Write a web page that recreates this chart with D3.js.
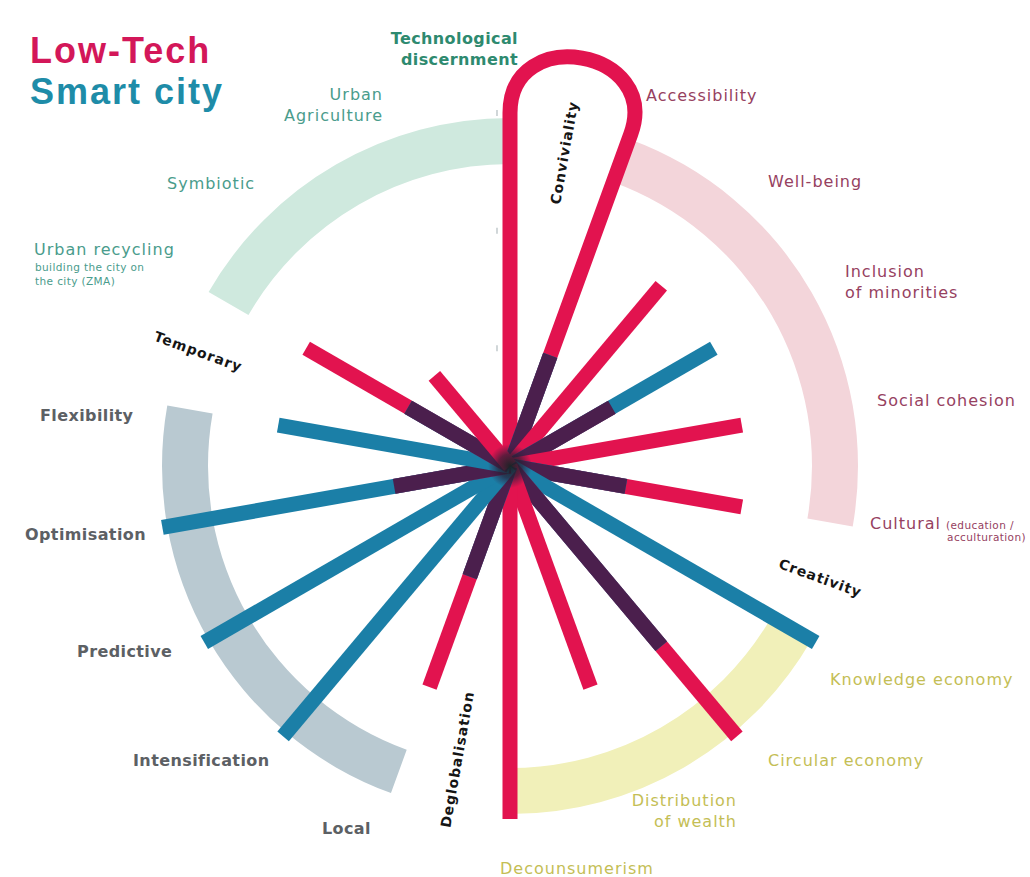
<!DOCTYPE html>
<html>
<head>
<meta charset="utf-8">
<script src="https://cdn.jsdelivr.net/npm/d3@7"></script>
<style>
  html, body { margin: 0; padding: 0; background: #fff; }
  svg { display: block; }
  text { font-family: "DejaVu Sans", sans-serif; }
  .title { font-family: "Liberation Sans", Arial, sans-serif; font-weight: bold; font-size: 36px; letter-spacing: 2px; }
  .cat { font-size: 16px; letter-spacing: 1px; }
  .cat.bold { font-weight: bold; letter-spacing: 0.4px; }
  .note { font-size: 10.5px; letter-spacing: 0.4px; }
  .grp { font-size: 14px; font-weight: bold; fill: #151515; letter-spacing: 1px; }
</style>
</head>
<body>
<svg id="chart" width="1030" height="877"></svg>
<script>
// categories clockwise from the top, one every 20 degrees ("|" = line break)
const categories = [
  "Technological|discernment", "Accessibility", "Well-being", "Inclusion|of minorities",
  "Social cohesion", "Cultural", "Knowledge economy", "Circular economy",
  "Distribution|of wealth", "Decounsumerism", "Local", "Intensification",
  "Predictive", "Optimisation", "Flexibility", "Urban recycling",
  "Symbiotic", "Urban|Agriculture"
];
// score per category (0..3)
const lowTech   = [3, 3, 2, 1, 2, 2, 0, 3, 2, 3, 2, 0, 0, 1, 0, 2, 1, 0];
const smartCity = [0, 1, 0, 2, 0, 1, 3, 2, 0, 0, 1, 3, 3, 3, 2, 1, 0, 0];
// the two low-tech spokes joined by a loop (off the scale)
const loopPair = [0, 1];
const notes = { 5: ["(education /", "acculturation)"], 15: ["building the city on", "the city (ZMA)"] };

// themes: which category each arc runs from / to
const themeStart = [15, 1, 6, 10];
const themeEnd   = [18, 5, 9, 14];
const themeOf    = [0, 1, 1, 1, 1, 1, 2, 2, 2, 2, 3, 3, 3, 3, 3, 0, 0, 0];

const groups      = ["Conviviality", "Creativity", "Deglobalisation", "Temporary"];
const groupAngles = [10, 110, 190, 290];
const scaleTicks  = [1, 2, 3];

// ---- styles / layout ----
const cx = 510, cy = 466;
const pink = "#e2134f", blue = "#1b7fa7", dark = "#4b1f4d";
const arcFill  = ["#cfe9de", "#f3d5da", "#f1f0b9", "#b9c9d1"];
const textFill = ["#4a9c8c", "#96415f", "#c4be55", "#5c6064"];
const groupR = [318, 330, 298, 332];
const labelLayout = [
  { x: 518, y: 44,  anchor: "end" },
  { x: 646, y: 101, anchor: "start" },
  { x: 768, y: 187, anchor: "start" },
  { x: 845, y: 277, anchor: "start" },
  { x: 877, y: 406, anchor: "start" },
  { x: 870, y: 529, anchor: "start" },
  { x: 830, y: 685, anchor: "start" },
  { x: 768, y: 766, anchor: "start" },
  { x: 737, y: 806, anchor: "end" },
  { x: 500, y: 874, anchor: "start" },
  { x: 322, y: 834, anchor: "start" },
  { x: 133, y: 766, anchor: "start" },
  { x: 77,  y: 657, anchor: "start" },
  { x: 25,  y: 540, anchor: "start" },
  { x: 40,  y: 421, anchor: "start" },
  { x: 34,  y: 255, anchor: "start" },
  { x: 167, y: 189, anchor: "start" },
  { x: 383, y: 100, anchor: "end" }
];

const svg = d3.select("#chart");
const n = categories.length;
const angle = d3.scaleLinear().domain([0, n]).range([0, 360]);
const r = d3.scaleLinear().domain([0, 3]).range([0, 353]);
const rad = d => d * Math.PI / 180;
const polar = (deg, rr) => [rr * Math.sin(rad(deg)), -rr * Math.cos(rad(deg))];

// title
svg.append("text").attr("class", "title").attr("x", 30).attr("y", 63).attr("fill", "#d31759").text("Low-Tech");
svg.append("text").attr("class", "title").attr("x", 30).attr("y", 104).attr("fill", "#1e8ca8").text("Smart city");

const g = svg.append("g").attr("transform", `translate(${cx},${cy})`);

// theme arcs
const arc = d3.arc().innerRadius(302).outerRadius(348);
g.selectAll("path.theme")
  .data(themeStart.map((s, i) => ({ s, e: themeEnd[i], i })))
  .join("path")
  .attr("class", "theme")
  .attr("fill", d => arcFill[d.i])
  .attr("d", d => arc({ startAngle: rad(angle(d.s)), endAngle: rad(angle(d.e)) }));

// faint scale ticks
g.selectAll("line.tick")
  .data(scaleTicks)
  .join("line")
  .attr("x1", -13).attr("x2", -13)
  .attr("y1", d => -r(d) - 3).attr("y2", d => -r(d) + 3)
  .attr("stroke", "#7f9096").attr("stroke-width", 1.3).attr("opacity", 0.55);

// conviviality loop
const a0 = angle(loopPair[0]), a1 = angle(loopPair[1]);
const p0 = polar(a0, r(lowTech[loopPair[0]])), p1 = polar(a1, r(lowTech[loopPair[1]]));
const h = 90;
const c0 = [p0[0] + h * Math.sin(rad(a0)), p0[1] - h * Math.cos(rad(a0))];
const c1 = [p1[0] + h * Math.sin(rad(a1)), p1[1] - h * Math.cos(rad(a1))];
const loop = d3.path();
loop.moveTo(0, 0);
loop.lineTo(p0[0], p0[1]);
loop.bezierCurveTo(c0[0], c0[1], c1[0], c1[1], p1[0], p1[1]);
loop.lineTo(0, 0);
g.append("path")
  .attr("d", loop.toString())
  .attr("fill", "none").attr("stroke", pink).attr("stroke-width", 15)
  .attr("stroke-linejoin", "round");

// spokes
const spoke = d3.lineRadial().angle(d => rad(d[0])).radius(d => r(d[1]));
categories.forEach((c, i) => {
  const a = angle(i);
  const lt = lowTech[i], sc = smartCity[i], both = Math.min(lt, sc);
  const segs = [];
  if (lt > 0 && !loopPair.includes(i)) segs.push([lt, pink]);
  if (sc > 0) segs.push([sc, blue]);
  if (both > 0) segs.push([both, dark]);
  segs.forEach(([v, col]) => {
    g.append("path")
      .attr("d", spoke([[a, 0], [a, v]]))
      .attr("stroke", col).attr("stroke-width", 15)
      .attr("stroke-linecap", "butt").attr("fill", "none");
  });
});

// dark hub
const grad = svg.append("defs").append("radialGradient").attr("id", "hub");
grad.append("stop").attr("offset", "0%").attr("stop-color", "#142424").attr("stop-opacity", 0.95);
grad.append("stop").attr("offset", "55%").attr("stop-color", "#2a1f36").attr("stop-opacity", 0.7);
grad.append("stop").attr("offset", "100%").attr("stop-color", "#3a1f44").attr("stop-opacity", 0);
g.append("circle").attr("r", 22).attr("fill", "url(#hub)");

// group labels, reading along the radius
g.selectAll("text.grp")
  .data(groups)
  .join("text")
  .attr("class", "grp")
  .attr("text-anchor", "middle")
  .attr("dominant-baseline", "middle")
  .attr("transform", (d, i) => {
    const a = groupAngles[i];
    const [x, y] = polar(a, groupR[i]);
    const rot = a < 180 ? a - 90 : a - 270;
    return `translate(${x},${y}) rotate(${rot})`;
  })
  .text(d => d);

// category labels
categories.forEach((c, i) => {
  const L = labelLayout[i];
  const t = themeOf[i];
  const special = i === 0;
  const txt = svg.append("text")
    .attr("class", "cat" + (special || t === 3 ? " bold" : ""))
    .attr("x", L.x).attr("y", L.y)
    .attr("text-anchor", L.anchor)
    .attr("fill", special ? "#2e8a6f" : textFill[t]);
  c.split("|").forEach((line, k) => {
    txt.append("tspan").attr("x", L.x).attr("dy", k === 0 ? 0 : 21).text(line);
  });
  const nt = notes[i];
  if (nt && i === 5) {
    txt.append("tspan").attr("class", "note").attr("dx", 5).text(nt[0]);
    svg.append("text").attr("class", "note").attr("x", 1026).attr("y", L.y + 12)
      .attr("text-anchor", "end").attr("fill", textFill[t]).text(nt[1]);
  } else if (nt) {
    nt.forEach((line, k) => {
      svg.append("text").attr("class", "note").attr("x", L.x + 1).attr("y", L.y + 16 + k * 14)
        .attr("fill", textFill[t]).text(line);
    });
  }
});
</script>
</body>
</html>
